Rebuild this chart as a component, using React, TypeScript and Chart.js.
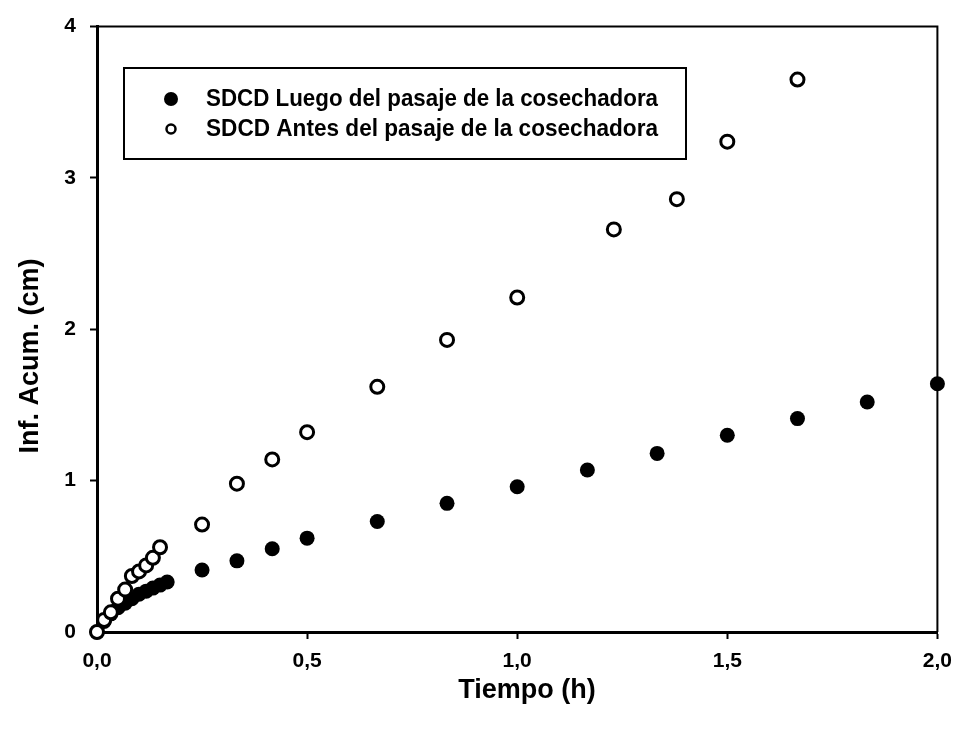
import React, { useEffect, useRef } from "react";
import Chart from "chart.js/auto";

const luegoT = [0, 0.017, 0.033, 0.05, 0.067, 0.083, 0.1, 0.117, 0.133, 0.15, 0.167, 0.25, 0.333, 0.417, 0.5, 0.667, 0.833, 1.0, 1.167, 1.333, 1.5, 1.667, 1.833, 2.0];
const luegoY = [0, 0.07, 0.12, 0.16, 0.19, 0.22, 0.25, 0.27, 0.29, 0.31, 0.33, 0.41, 0.47, 0.55, 0.62, 0.73, 0.85, 0.96, 1.07, 1.18, 1.30, 1.41, 1.52, 1.64];

const antesT = [0, 0.017, 0.033, 0.05, 0.067, 0.083, 0.1, 0.117, 0.133, 0.15, 0.25, 0.333, 0.417, 0.5, 0.667, 0.833, 1.0, 1.23, 1.38, 1.5, 1.667];
const antesY = [0, 0.08, 0.13, 0.22, 0.28, 0.37, 0.40, 0.44, 0.49, 0.56, 0.71, 0.98, 1.14, 1.32, 1.62, 1.93, 2.21, 2.66, 2.86, 3.24, 3.65];

const labelLuego = "SDCD Luego del pasaje de la cosechadora";
const labelAntes = "SDCD Antes del pasaje de la cosechadora";
const xTitle = "Tiempo (h)";
const yTitle = "Inf. Acum. (cm)";
const xTicks = [0, 0.5, 1.0, 1.5, 2.0];
const yTicks = [0, 1, 2, 3, 4];

const FONT = '"Liberation Sans", Arial, sans-serif';

const decorPlugin = {
  id: "decor",
  afterDraw(chart: any) {
    const { ctx, chartArea } = chart;
    const { left, right, top, bottom } = chartArea;
    ctx.save();
    ctx.strokeStyle = "#000";
    ctx.lineWidth = 2;
    ctx.beginPath();
    ctx.moveTo(left, top);
    ctx.lineTo(right, top);
    ctx.lineTo(right, bottom);
    ctx.stroke();

    const bx = 124, by = 68, bw = 562, bh = 91;
    ctx.lineWidth = 2;
    ctx.fillStyle = "#fff";
    ctx.fillRect(bx, by, bw, bh);
    ctx.strokeRect(bx, by, bw, bh);
    ctx.fillStyle = "#000";
    ctx.beginPath();
    ctx.arc(171, 99, 7, 0, Math.PI * 2);
    ctx.fill();
    ctx.beginPath();
    ctx.lineWidth = 2.5;
    ctx.arc(171, 129, 4.5, 0, Math.PI * 2);
    ctx.stroke();
    ctx.font = "bold 24px " + FONT;
    ctx.textAlign = "left";
    ctx.textBaseline = "middle";
    ctx.fillText(labelLuego, 206, 99, 452);
    ctx.fillText(labelAntes, 206, 129, 452);

    ctx.font = "bold 27px " + FONT;
    ctx.textAlign = "center";
    ctx.textBaseline = "middle";
    ctx.fillText(xTitle, 527, 691);
    ctx.translate(31, 356);
    ctx.rotate(-Math.PI / 2);
    ctx.fillText(yTitle, 0, 0, 200);
    ctx.restore();
  },
};

export default function App() {
  const ref = useRef<HTMLCanvasElement | null>(null);
  useEffect(() => {
    if (!ref.current) return;
    const chart = new Chart(ref.current, {
      type: "scatter",
      data: {
        datasets: [
          {
            label: labelAntes,
            data: antesT.map((t, i) => ({ x: t, y: antesY[i] })),
            pointRadius: 6.5,
            pointBorderWidth: 3,
            pointBackgroundColor: "#fff",
            pointBorderColor: "#000",
            order: 0,
            clip: false,
          },
          {
            label: labelLuego,
            data: luegoT.map((t, i) => ({ x: t, y: luegoY[i] })),
            pointRadius: 7.5,
            pointBorderWidth: 0,
            pointBackgroundColor: "#000",
            pointBorderColor: "#000",
            order: 1,
            clip: false,
          },
        ],
      },
      options: {
        animation: false,
        responsive: true,
        maintainAspectRatio: false,
        layout: { padding: { left: 0, top: 22, right: 22, bottom: 0 } },
        plugins: { legend: { display: false }, tooltip: { enabled: false } },
        scales: {
          x: {
            type: "linear",
            min: 0,
            max: 2,
            afterFit: (s: any) => { s.height = 99; },
            afterBuildTicks: (s: any) => { s.ticks = xTicks.map((v) => ({ value: v })); },
            border: { display: true, color: "#000", width: 3 },
            grid: { drawOnChartArea: false, drawTicks: true, tickLength: 7, tickWidth: 2, tickColor: "#000" },
            ticks: {
              color: "#000",
              padding: 10,
              font: { family: FONT, size: 21, weight: "bold" },
              callback: (v: any) => Number(v).toFixed(1).replace(".", ","),
            },
          },
          y: {
            type: "linear",
            min: 0,
            max: 4,
            afterFit: (s: any) => { s.width = 97; },
            afterBuildTicks: (s: any) => { s.ticks = yTicks.map((v) => ({ value: v })); },
            border: { display: true, color: "#000", width: 3 },
            grid: { drawOnChartArea: false, drawTicks: true, tickLength: 7, tickWidth: 2, tickColor: "#000" },
            ticks: {
              color: "#000",
              padding: 14,
              font: { family: FONT, size: 21, weight: "bold" },
              callback: (v: any) => String(Math.round(Number(v))),
            },
          },
        },
      },
      plugins: [decorPlugin],
    });
    return () => chart.destroy();
  }, []);
  return (
    <div style={{ position: "fixed", left: 0, top: 0, width: 962, height: 731, background: "#fff" }}>
      <canvas ref={ref} />
    </div>
  );
}
